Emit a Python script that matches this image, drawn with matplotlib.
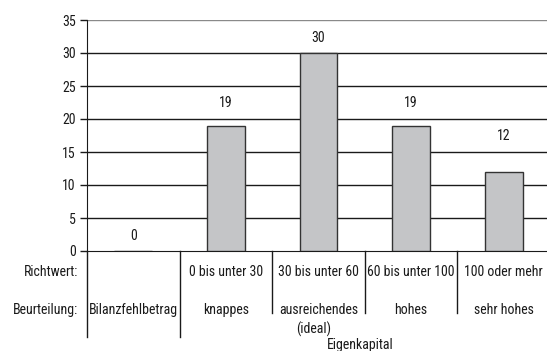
import matplotlib
matplotlib.use("Agg")
import matplotlib.pyplot as plt
from matplotlib import font_manager
from matplotlib.transforms import blended_transform_factory

# Data
richtwert = ["", "0 bis unter 30", "30 bis unter 60", "60 bis unter 100", "100 oder mehr"]
beurteilung = ["Bilanzfehlbetrag", "knappes", "ausreichendes", "hohes", "sehr hohes"]
values = [0, 19, 30, 19, 12]
yticks = [0, 5, 10, 15, 20, 25, 30, 35]

names = {f.name for f in font_manager.fontManager.ttflist}
family = "DejaVu Sans"
for cand in ["Roboto Condensed", "Archivo Narrow", "Barlow Semi Condensed", "Barlow Condensed",
             "Asap Condensed", "Liberation Sans Narrow"]:
    if cand in names:
        family = cand
        break
plt.rcParams["font.family"] = [family, "DejaVu Sans"]
FS = 10
plt.rcParams["font.size"] = FS
INK = "#1a1a1a"

W, H = 547, 351
fig = plt.figure(figsize=(W / 100, H / 100), dpi=100)
fig.patch.set_facecolor("white")

x0, x1, ytop, ybot = 87, 550, 20, 251
ax = fig.add_axes([x0 / W, (H - ybot) / H, (x1 - x0) / W, (ybot - ytop) / H])

xs = list(range(len(values)))
ax.bar(xs, values, width=0.41, color="#c4c5c7", edgecolor="#333333", linewidth=1.0, zorder=3)

ax.set_xlim(-0.5, len(values) - 0.5)
ax.set_ylim(0, 35)
ax.set_yticks(yticks)
ax.set_yticklabels([str(t) for t in yticks])
ax.set_xticks([])

for t in yticks[1:]:
    ax.axhline(t, color="#8a8a8a" if t == 35 else INK, linewidth=1.0, zorder=1)

for side in ("top", "right"):
    ax.spines[side].set_visible(False)
ax.spines["left"].set_color(INK)
ax.spines["bottom"].set_color(INK)
ax.tick_params(axis="y", length=5, width=1, color=INK, pad=3, labelsize=FS, labelcolor=INK)

# value labels above bars (offset in points)
offsets = [6, 11, 6, 11, 21]
for x, v, off in zip(xs, values, offsets):
    ax.annotate(str(v), (x, v), xytext=(0, off), textcoords="offset points",
                ha="center", va="bottom", fontsize=FS, color=INK)

# table-like dividers under the axis
tb = blended_transform_factory(ax.transData, ax.transAxes)
def yfrac(py):
    return (ybot - py) / (ybot - ytop)

ax.plot([-0.5, -0.5], [0, yfrac(337)], transform=tb, color=INK, lw=1, clip_on=False)
ax.plot([0.5, 0.5], [0, yfrac(337)], transform=tb, color=INK, lw=1, clip_on=False)
for b in [1.5, 2.5, 3.5]:
    ax.plot([b, b], [0, yfrac(313)], transform=tb, color=INK, lw=1, clip_on=False)

for x, r, b in zip(xs, richtwert, beurteilung):
    ax.text(x, yfrac(272), r, transform=tb, ha="center", va="center", fontsize=FS, color=INK)
    ax.text(x, yfrac(310), b, transform=tb, ha="center", va="center", fontsize=FS, color=INK)

fig.text(78 / W, (H - 272) / H, "Richtwert:", ha="right", va="center", fontsize=FS, color=INK)
fig.text(78 / W, (H - 310) / H, "Beurteilung:", ha="right", va="center", fontsize=FS, color=INK)
fig.text(314 / W, (H - 329) / H, "(ideal)", ha="center", va="center", fontsize=FS, color=INK)
fig.text(360 / W, (H - 345) / H, "Eigenkapital", ha="center", va="center", fontsize=FS, color=INK)

fig.savefig("out.png", dpi=100, facecolor="white")
